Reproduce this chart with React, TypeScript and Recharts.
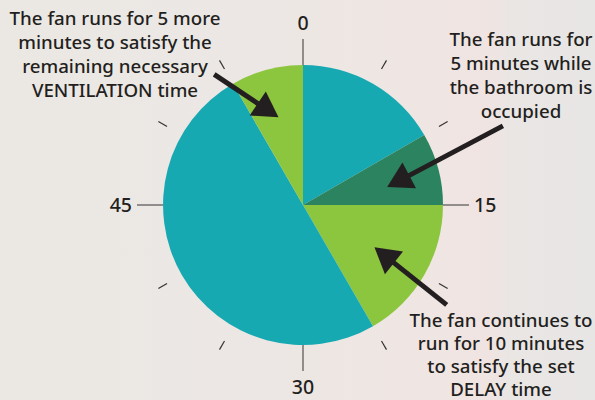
import React from 'react';
import { PieChart, Pie, Cell } from 'recharts';

// ---- data ----
const segmentNames = ['Running (before)', 'Occupied', 'Delay', 'Off', 'Ventilation'];
const segmentMinutes = [10, 5, 10, 30, 5];
const segmentColors = ['#17a9b2', '#2b845f', '#8cc63f', '#17a9b2', '#8cc63f'];

const majorTicks = [0, 15, 30, 45];
const minorTicks = [5, 10, 20, 25, 35, 40, 50, 55];

const noteLeftLines = [
  'The fan runs for 5 more',
  'minutes to satisfy the',
  'remaining necessary',
  'VENTILATION time',
];
const noteTopRightLines = [
  'The fan runs for',
  '5 minutes while',
  'the bathroom is',
  'occupied',
];
const noteBottomRightLines = [
  'The fan continues to',
  'run for 10 minutes',
  'to satisfy the set',
  'DELAY time',
];

// arrows: tip minute/radius, tail minute/radius
const arrowTipMinutes = [57.4, 13, 20.1];
const arrowTipRadii = [91, 86, 83];
const arrowTailMinutes = [54.3, 11.4, 20.8];
const arrowTailRadii = [158, 215, 175];

const W = 595;
const H = 400;
const CX = 303;
const CY = 205;
const R = 140;
const FONT = '"Noto Sans", "Open Sans", sans-serif';
const INK = '#231f20';

const chartData = segmentNames.map((name, i) => ({ name, value: segmentMinutes[i] }));

const polar = (minute: number, r: number) => {
  const a = (minute / 60) * Math.PI * 2;
  return { x: CX + r * Math.sin(a), y: CY - r * Math.cos(a) };
};

const Arrow = ({ i }: { i: number }) => {
  const tip = polar(arrowTipMinutes[i], arrowTipRadii[i]);
  const tail = polar(arrowTailMinutes[i], arrowTailRadii[i]);
  const dx = tip.x - tail.x;
  const dy = tip.y - tail.y;
  const len = Math.hypot(dx, dy);
  const ux = dx / len;
  const uy = dy / len;
  const headL = 25;
  const headW = 29;
  const bx = tip.x - ux * headL;
  const by = tip.y - uy * headL;
  const p1 = `${tip.x},${tip.y}`;
  const p2 = `${bx - uy * headW / 2},${by + ux * headW / 2}`;
  const p3 = `${bx + uy * headW / 2},${by - ux * headW / 2}`;
  return (
    <g>
      <line x1={tail.x} y1={tail.y} x2={bx + ux * 2} y2={by + uy * 2} stroke={INK} strokeWidth={5} />
      <polygon points={`${p1} ${p2} ${p3}`} fill={INK} />
    </g>
  );
};

const Note = ({ lines, x, y0, step }: { lines: string[]; x: number; y0: number; step: number }) => (
  <text x={x} y={y0} textAnchor="middle" fontFamily={FONT} fontSize={18.7} fontWeight={500} fill={INK}>
    {lines.map((l, i) => (
      <tspan key={i} x={x} y={y0 + i * step}>
        {l}
      </tspan>
    ))}
  </text>
);

const Overlay = () => (
  <svg
    width={W}
    height={H}
    style={{ position: 'absolute', left: 0, top: 0, pointerEvents: 'none' }}
  >
    {majorTicks.map((m) => {
      const a = polar(m, R);
      const b = polar(m, R + 26);
      const s = Math.sin((m / 60) * Math.PI * 2);
      const side = Math.abs(s) > 0.5;
      const lp = polar(m, side ? R + 31 : R + 42);
      const anchor = side ? (s > 0 ? 'start' : 'end') : 'middle';
      return (
        <g key={`M${m}`}>
          <line x1={a.x} y1={a.y} x2={b.x} y2={b.y} stroke="#7a7776" strokeWidth={1.6} />
          <text x={lp.x} y={lp.y + 7} textAnchor={anchor} fontFamily={FONT} fontSize={19.5} fontWeight={500} fill={INK}>
            {m}
          </text>
        </g>
      );
    })}
    {minorTicks.map((m) => {
      const a = polar(m, R + 17);
      const b = polar(m, R + 27);
      return <line key={`m${m}`} x1={a.x} y1={a.y} x2={b.x} y2={b.y} stroke="#333" strokeWidth={1.2} />;
    })}
    {arrowTipMinutes.map((_, i) => (
      <Arrow key={i} i={i} />
    ))}
    <Note lines={noteLeftLines} x={115} y0={25} step={24} />
    <Note lines={noteTopRightLines} x={521} y0={46} step={24} />
    <Note lines={noteBottomRightLines} x={501} y0={327} step={23} />
  </svg>
);

export default function App() {
  return (
    <div
      style={{
        position: 'fixed',
        left: 0,
        top: 0,
        width: W,
        height: H,
        overflow: 'hidden',
        background:
          'linear-gradient(90deg, #ebe8e4 0%, #ece7e4 45%, #efe6e3 70%, #f0e4e2 82%, #e9e6e4 86%, #e8e6e5 100%)',
      }}
    >
      <PieChart width={W} height={H} margin={{ top: 0, right: 0, bottom: 0, left: 0 }}>
        <Pie
          data={chartData}
          dataKey="value"
          nameKey="name"
          cx={CX}
          cy={CY}
          innerRadius={0}
          outerRadius={R}
          startAngle={90}
          endAngle={-270}
          stroke="none"
          isAnimationActive={false}
        >
          {chartData.map((d, i) => (
            <Cell key={d.name} fill={segmentColors[i]} />
          ))}
        </Pie>
      </PieChart>
      <Overlay />
    </div>
  );
}
